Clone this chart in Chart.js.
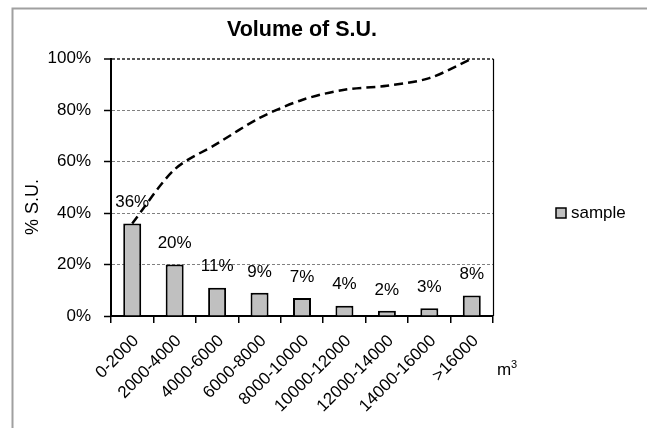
<!DOCTYPE html>
<html>
<head>
<meta charset="utf-8">
<script src="https://cdn.jsdelivr.net/npm/chart.js@4.4.0/dist/chart.umd.min.js"></script>
<style>
  html, body { margin: 0; padding: 0; background: #fff; }
  #wrap { width: 647px; height: 428px; }
</style>
</head>
<body>
<div id="wrap"><canvas id="chart" width="647" height="428"></canvas></div>
<script>
// Volume classes (m³)
const categories = ['0-2000', '2000-4000', '4000-6000', '6000-8000', '8000-10000',
                    '10000-12000', '12000-14000', '14000-16000', '>16000'];
// Share of S.U. per class, in %
const sampleShare = [36, 20, 11, 9, 7, 4, 2, 3, 8];
// Cumulative share, in %
const cumulativeShare = [36, 57, 67, 77, 84, 88, 89.5, 92.5, 100];
// Y axis ticks, in %
const yTicks = [0, 20, 40, 60, 80, 100];

const FAMILY = "'Liberation Sans', Arial, Helvetica, sans-serif";
const BAR_FILL = '#c0c0c0';

// Frame, value labels, right plot edge, axis captions and legend
const decorations = {
  id: 'decorations',
  beforeDraw(chart) {
    const ctx = chart.ctx;
    ctx.save();
    ctx.strokeStyle = '#a0a0a0';
    ctx.lineWidth = 2;
    ctx.beginPath();
    ctx.moveTo(12.5, 428);
    ctx.lineTo(12.5, 8.5);
    ctx.lineTo(647, 8.5);
    ctx.stroke();
    ctx.restore();
  },
  afterDatasetsDraw(chart) {
    const ctx = chart.ctx;
    const meta = chart.getDatasetMeta(0);
    const values = chart.data.datasets[0].data;
    ctx.save();
    ctx.fillStyle = '#000';
    ctx.font = '17px ' + FAMILY;
    ctx.textAlign = 'center';
    ctx.textBaseline = 'middle';
    meta.data.forEach((bar, i) => {
      ctx.fillText(values[i] + '%', bar.x, bar.y - 21);
    });
    ctx.restore();
  },
  afterDraw(chart) {
    const ctx = chart.ctx;
    const area = chart.chartArea;
    ctx.save();
    // right edge of the plot area
    ctx.strokeStyle = '#000';
    ctx.lineWidth = 1.2;
    ctx.beginPath();
    ctx.moveTo(area.right + 0.5, area.top);
    ctx.lineTo(area.right + 0.5, area.bottom);
    ctx.stroke();

    // y axis caption
    ctx.fillStyle = '#000';
    ctx.save();
    ctx.translate(33, 207);
    ctx.rotate(-Math.PI / 2);
    ctx.font = '18px ' + FAMILY;
    ctx.textAlign = 'center';
    ctx.textBaseline = 'middle';
    ctx.fillText('% S.U.', 0, 0);
    ctx.restore();

    // x axis unit
    ctx.textAlign = 'left';
    ctx.textBaseline = 'alphabetic';
    ctx.font = '17px ' + FAMILY;
    ctx.fillText('m', 497, 375);
    ctx.font = '11px ' + FAMILY;
    ctx.fillText('3', 511, 368);

    // legend
    const ds = chart.data.datasets[0];
    ctx.fillStyle = ds.backgroundColor;
    ctx.fillRect(556, 208, 10, 10);
    ctx.strokeStyle = '#000';
    ctx.lineWidth = 1.5;
    ctx.strokeRect(556, 208, 10, 10);
    ctx.fillStyle = '#000';
    ctx.font = '17px ' + FAMILY;
    ctx.textBaseline = 'middle';
    ctx.fillText(ds.label, 571, 213);
    ctx.restore();
  }
};

new Chart(document.getElementById('chart'), {
  type: 'bar',
  data: {
    labels: categories,
    datasets: [
      {
        type: 'bar',
        label: 'sample',
        data: sampleShare,
        backgroundColor: BAR_FILL,
        borderColor: '#000',
        borderWidth: 2,
        barPercentage: 0.424,
        categoryPercentage: 1,
        order: 2
      },
      {
        type: 'line',
        label: 'cumulative',
        data: cumulativeShare,
        borderColor: '#000',
        borderWidth: 2.5,
        borderDash: [9, 5],
        pointRadius: 0,
        tension: 0.3,
        fill: false,
        order: 1
      }
    ]
  },
  options: {
    responsive: false,
    animation: false,
    layout: { padding: { left: 0, right: 154, top: 0, bottom: 0 } },
    plugins: {
      legend: { display: false },
      tooltip: { enabled: false },
      title: {
        display: true,
        fullSize: false,
        text: 'Volume of S.U.',
        color: '#000',
        font: { family: FAMILY, size: 21.5, weight: 'bold' },
        padding: { top: 17, bottom: 16 }
      }
    },
    scales: {
      x: {
        offset: true,
        grid: {
          offset: true,
          drawOnChartArea: false,
          drawTicks: true,
          tickLength: 7,
          color: '#000',
          tickColor: '#000',
          tickWidth: 1.5,
          lineWidth: 1.5
        },
        border: { color: '#000', width: 2 },
        ticks: {
          autoSkip: false,
          minRotation: 45,
          maxRotation: 45,
          padding: 8,
          labelOffset: 4,
          color: '#000',
          font: { family: FAMILY, size: 17 }
        },
        afterFit(scale) { scale.height = 112; }
      },
      y: {
        min: 0,
        max: 100,
        afterBuildTicks(scale) { scale.ticks = yTicks.map(v => ({ value: v })); },
        ticks: {
          padding: 13,
          color: '#000',
          font: { family: FAMILY, size: 17 },
          callback: v => v + '%'
        },
        grid: {
          color: c => c.tick && c.tick.value === 0 ? 'rgba(0,0,0,0)'
                    : (c.tick && c.tick.value === 100 ? '#555' : '#808080'),
          lineWidth: c => c.tick && c.tick.value === 100 ? 2 : 1,
          tickColor: '#000',
          tickLength: 7,
          tickWidth: 1.5
        },
        border: { color: '#000', width: 2, dash: [3, 2] },
        afterFit(scale) { scale.width = 111; }
      }
    }
  },
  plugins: [decorations]
});
</script>
</body>
</html>
